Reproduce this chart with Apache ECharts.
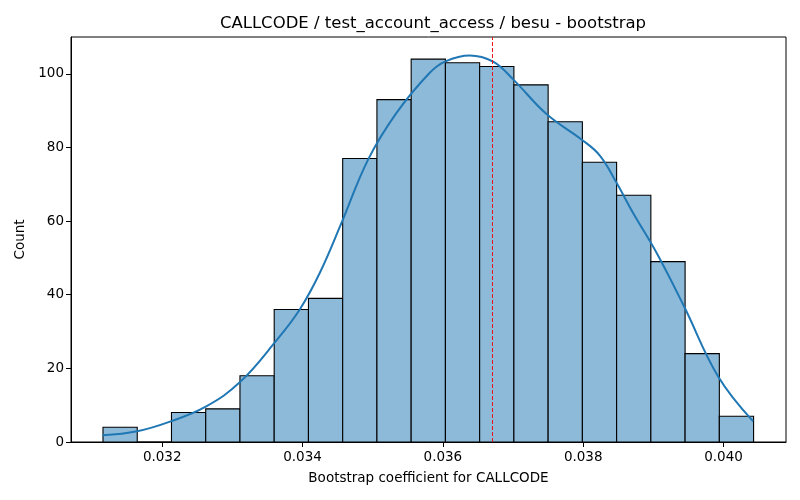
<!DOCTYPE html>
<html>
<head>
<meta charset="utf-8">
<script src="https://cdn.jsdelivr.net/npm/echarts@6/dist/echarts.min.js"></script>
<style>
	html, body { margin: 0; padding: 0; background: #fff; }
	#chart { width: 800px; height: 500px; }
</style>
</head>
<body>
<div id="chart"></div>
<script>
// histogram bin edges (20 edges -> 19 bins)
var binEdges = [0.031156, 0.031644, 0.032132, 0.032620, 0.033108, 0.033596, 0.034084,
	0.034572, 0.035060, 0.035548, 0.036036, 0.036524, 0.037012, 0.037500, 0.037988,
	0.038476, 0.038964, 0.039452, 0.039940, 0.040428];
var binCounts = [4, 0, 8, 9, 18, 36, 39, 77, 93, 104, 103, 102, 97, 87, 76, 67, 49, 24, 7];

// kde curve
var kdeX = [0.031148, 0.031641, 0.032121, 0.032620, 0.033105, 0.033628, 0.033960, 0.034245,
	0.034555, 0.034934, 0.035339, 0.035813, 0.036037, 0.036383, 0.036716, 0.037001,
	0.037481, 0.037980, 0.038237, 0.038475, 0.038711, 0.039045, 0.039438, 0.039923, 0.040422];
var kdeY = [1.8, 2.9, 5.6, 9.6, 16.2, 27.6, 36.0, 45.9, 59.5, 76.7, 89.4, 100.3, 103.4, 105.0,
	103.3, 98.5, 89.0, 82.1, 77.8, 70.4, 62.2, 51.4, 36.8, 17.8, 5.6];

var meanValue = 0.036707;

var xTicks = [0.032, 0.034, 0.036, 0.038, 0.040];
var yTicks = [0, 20, 40, 60, 80, 100];

var FONT = "DejaVu Sans";

function init(){
	var chart = echarts.init(document.getElementById("chart"), null, {renderer: "canvas"});

	var bins = [];
	for (var i = 0; i < binCounts.length; i++) {
		bins.push([binEdges[i], binEdges[i + 1], binCounts[i]]);
	}
	var kde = [];
	for (var j = 0; j < kdeX.length; j++) {
		kde.push([kdeX[j], kdeY[j]]);
	}

	chart.setOption({
		animation: false,
		title: {
			text: "CALLCODE / test_account_access / besu - bootstrap",
			left: 428,
			textAlign: "center",
			top: 10,
			textStyle: {fontFamily: FONT, fontSize: 16.5, fontWeight: "normal", color: "#000"}
		},
		grid: {
			left: 71, right: 14, top: 37, bottom: 58,
			show: true, borderColor: "#000", borderWidth: 1, backgroundColor: "transparent"
		},
		xAxis: {
			type: "value",
			min: 0.0307, max: 0.04089,
			name: "Bootstrap coefficient for CALLCODE",
			nameLocation: "middle",
			nameGap: 29,
			nameTextStyle: {fontFamily: FONT, fontSize: 13.5, color: "#000"},
			splitLine: {show: false},
			axisLine: {show: true, onZero: false, lineStyle: {color: "#000", width: 1}},
			axisTick: {show: true, length: 5, customValues: xTicks, lineStyle: {color: "#000"}},
			axisLabel: {
				customValues: xTicks, margin: 8,
				fontFamily: FONT, fontSize: 13.5, color: "#000",
				formatter: function(v){ return v.toFixed(3); }
			}
		},
		yAxis: {
			type: "value",
			min: 0, max: 110,
			name: "Count",
			nameLocation: "middle",
			nameGap: 43,
			nameTextStyle: {fontFamily: FONT, fontSize: 13.5, color: "#000"},
			splitLine: {show: false},
			axisLine: {show: true, lineStyle: {color: "#000", width: 1}},
			axisTick: {show: true, length: 5, customValues: yTicks, lineStyle: {color: "#000"}},
			axisLabel: {
				customValues: yTicks, margin: 7,
				fontFamily: FONT, fontSize: 13.5, color: "#000"
			}
		},
		series: [{
			type: "custom",
			data: bins,
			encode: {x: [0, 1], y: 2},
			renderItem: function(params, api){
				var p0 = api.coord([api.value(0), api.value(2)]);
				var p1 = api.coord([api.value(1), 0]);
				return {
					type: "rect",
					shape: {x: p0[0], y: p0[1], width: p1[0] - p0[0], height: p1[1] - p0[1]},
					style: {fill: "#8ebad9", stroke: "#000", lineWidth: 1.1}
				};
			},
			z: 2
		}, {
			type: "line",
			data: kde,
			smooth: 0.4,
			showSymbol: false,
			lineStyle: {color: "#1f77b4", width: 2},
			z: 3
		}, {
			type: "line",
			data: [[meanValue, 0], [meanValue, 110]],
			showSymbol: false,
			lineStyle: {color: "#e8161b", width: 1, type: [4, 2]},
			z: 4
		}]
	});
}
init();
</script>
</body>
</html>
